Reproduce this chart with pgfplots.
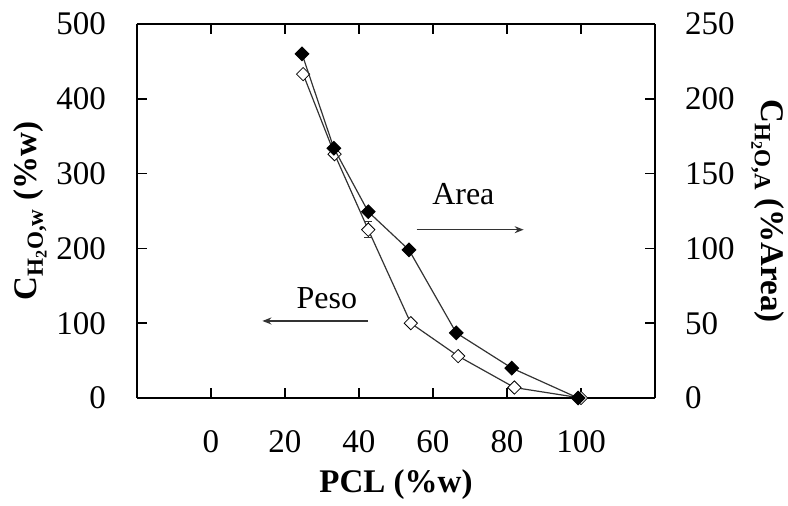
\documentclass[border=0pt]{standalone}
\usepackage{fontspec}
\setmainfont{Liberation Serif}
\usepackage{pgfplots}
\pgfplotsset{compat=1.18}
\usetikzlibrary{arrows.meta}
\definecolor{lineGray}{HTML}{333333}

\begin{document}
\fontsize{33}{38}\selectfont
\begin{tikzpicture}
\pgfplotsset{
  base/.style={
    scale only axis, width=518pt, height=374pt,
    xmin=-20, xmax=120, ymin=0,
    axis line style={line width=2pt},
    tick style={line width=1.6pt, black}, major tick length=10pt,
    tick align=inside,
    /pgf/number format/assume math mode=true,
    tick label style={font=\fontsize{33}{38}\selectfont},
    clip=false,
  },
}
% left axis: weight based (open diamonds)
\begin{axis}[base,
  ymax=500, axis y line*=left,
  xtick={0,20,...,100}, ytick={0,100,...,500},
  xticklabel pos=lower, xtick pos=both,
  yticklabel style={xshift=-20pt},
  xticklabel style={yshift=-21pt},
  xlabel={PCL (\%w)},
  ylabel={C\textsubscript{H\textsubscript{2}O,w} (\%w)},
  every axis x label/.style={at={(axis description cs:0.5,-0.2326)}, anchor=center,
    font=\fontsize{33}{38}\selectfont\bfseries},
  every axis y label/.style={at={(axis description cs:-0.2066,0.5)}, anchor=center, rotate=90,
    font=\fontsize{33}{38}\selectfont\bfseries},
]
\addplot[draw=none, mark=none, forget plot,
  error bars/.cd, y dir=both, y explicit,
  error bar style={line width=0.9pt, lineGray},
  error mark options={rotate=90, mark size=4pt, line width=0.9pt, lineGray}]
  coordinates {(42.5,225) +- (0,11)};
\addplot[lineGray, line width=1.2pt, mark=square*,
  mark size=4.7pt, mark options={rotate=45, fill=white, draw=black, line width=0.8pt}]
  coordinates {(24.9,433)(33.4,326)(42.5,225)(54,100)(66.8,56)(82,14)(100,0)};
\draw[-{Stealth[length=9pt,width=7pt]}, lineGray, line width=1.2pt]
  (axis cs:42.5,103) -- (axis cs:13.9,103);
\node[font=\fontsize{32}{36}\selectfont] at (axis cs:31.3,134) {Peso};
\draw[-{Stealth[length=9pt,width=7pt]}, lineGray, line width=1.2pt]
  (axis cs:55.6,225) -- (axis cs:84.5,225);
\node[font=\fontsize{32}{36}\selectfont] at (axis cs:68.2,272) {Area};
\end{axis}
% right axis: area based (filled diamonds)
\begin{axis}[base,
  ymax=250, axis y line*=right, axis x line=none,
  ytick={0,50,...,250},
  yticklabel style={xshift=19pt},
  ylabel={C\textsubscript{H\textsubscript{2}O,A} (\%Area)},
  every axis y label/.style={at={(axis description cs:1.218,0.5)}, anchor=center, rotate=-90,
    font=\fontsize{33}{38}\selectfont\bfseries},
]
\addplot[lineGray, line width=1.2pt, mark=square*,
  mark size=4.7pt, mark options={rotate=45, fill=black, draw=black}]
  coordinates {(24.6,230)(33.2,167)(42.5,124.5)(53.5,99)(66.3,43.5)(81.3,20)(99.2,0)};
\end{axis}
\pgfresetboundingbox
\useasboundingbox (-137pt,-108pt) rectangle (651pt,398pt);
\end{tikzpicture}
\end{document}
